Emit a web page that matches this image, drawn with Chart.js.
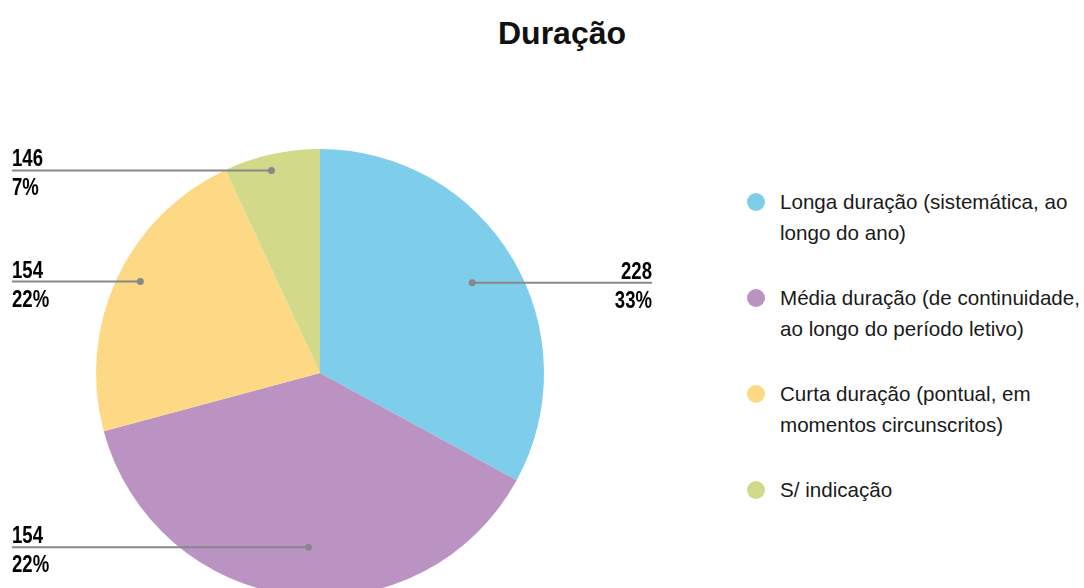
<!DOCTYPE html>
<html>
<head>
<meta charset="utf-8">
<script src="https://cdn.jsdelivr.net/npm/chart.js@4"></script>
<style>
  html, body { margin: 0; padding: 0; background: #fff; overflow: hidden; }
  body { width: 1084px; height: 588px; position: relative; font-family: 'Liberation Sans', Arial, sans-serif; }
  #title { position: absolute; left: 462px; width: 200px; top: 15px; text-align: center; font-weight: bold; font-size: 32px; color: #111; }
  #wrap { position: absolute; left: 0; top: 0; width: 700px; height: 746px; }
  #legend { position: absolute; left: 746px; top: 186px; color: #1a1a1a; font-size: 20.6px; line-height: 31px; }
  .item { position: relative; padding-left: 34px; height: 96px; }
  .dot { position: absolute; left: 1px; top: 7px; width: 18px; height: 18px; border-radius: 50%; }
</style>
</head>
<body>
<div id="title">Duração</div>
<div id="wrap"><canvas id="graph"></canvas></div>
<div id="legend"></div>
<script>
// dados
const categories = [
  ['Longa duração (sistemática, ao', 'longo do ano)'],
  ['Média duração (de continuidade,', 'ao longo do período letivo)'],
  ['Curta duração (pontual, em', 'momentos circunscritos)'],
  ['S/ indicação']
];
const values = [228, 262, 154, 48];
const valueLabels = ['228', '154', '154', '146'];
const percentLabels = ['33%', '22%', '22%', '7%'];
const colors = ['#7ecdeb', '#bb93c3', '#fed985', '#d2da8a'];

// legenda em html (o texto quebra em duas linhas)
const legend = document.getElementById('legend');
categories.forEach((lines, i) => {
  const item = document.createElement('div');
  item.className = 'item';
  item.innerHTML = '<span class="dot" style="background:' + colors[i] + '"></span>' + lines.join('<br>');
  legend.appendChild(item);
});

// linhas de chamada com valor e percentagem
const dotFactor = [0.79, 0.78, 0.9, 0.93];
const dotShift = [0, -3, 2, -1]; // graus
const callouts = {
  id: 'callouts',
  afterDatasetsDraw(chart) {
    const ctx = chart.ctx;
    const arcs = chart.getDatasetMeta(0).data;
    arcs.forEach((arc, i) => {
      const p = arc.getProps(['x', 'y', 'startAngle', 'endAngle', 'outerRadius'], true);
      const mid = (p.startAngle + p.endAngle) / 2 + dotShift[i] * Math.PI / 180;
      const r = p.outerRadius * dotFactor[i];
      const px = p.x + Math.cos(mid) * r;
      const py = p.y + Math.sin(mid) * r;
      const right = Math.cos(mid) > 0;
      const ex = right ? 652 : 12;

      ctx.save();
      ctx.strokeStyle = '#888';
      ctx.fillStyle = '#888';
      ctx.lineWidth = 2;
      ctx.beginPath();
      ctx.moveTo(px, py);
      ctx.lineTo(ex, py);
      ctx.stroke();
      ctx.beginPath();
      ctx.arc(px, py, 3.5, 0, Math.PI * 2);
      ctx.fill();

      // texto estreito: escala horizontal
      ctx.fillStyle = '#000';
      ctx.font = "bold 23.5px 'Liberation Sans', Arial, sans-serif";
      ctx.textAlign = right ? 'right' : 'left';
      ctx.textBaseline = 'alphabetic';
      ctx.translate(ex, py);
      ctx.scale(0.79, 1);
      ctx.fillText(valueLabels[i], 0, -4);
      ctx.fillText(percentLabels[i], 0, 25);
      ctx.restore();
    });
  }
};

const ctx = document.getElementById('graph').getContext('2d');
const chart = new Chart(ctx, {
  type: 'pie',
  data: {
    labels: categories,
    datasets: [{
      data: values,
      backgroundColor: colors,
      borderWidth: 0,
      hoverOffset: 0
    }]
  },
  options: {
    responsive: true,
    maintainAspectRatio: false,
    animation: false,
    layout: { padding: { left: 96, right: 156, top: 149, bottom: 149 } },
    plugins: {
      legend: { display: false },
      title: { display: false },
      tooltip: { enabled: false }
    }
  },
  plugins: [callouts]
});
</script>
</body>
</html>
